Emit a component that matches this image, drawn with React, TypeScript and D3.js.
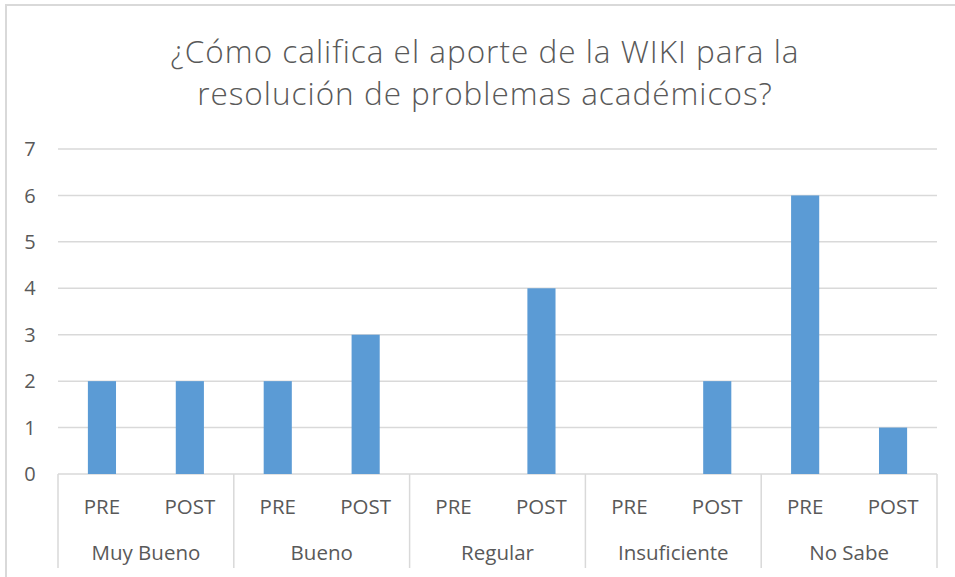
import { useEffect, useRef } from "react";
import * as d3 from "d3";

const groups = ["Muy Bueno", "Bueno", "Regular", "Insuficiente", "No Sabe"];
const phases = ["PRE", "POST"];
const preValues = [2, 2, 0, 0, 6];
const postValues = [2, 3, 4, 2, 1];
const yTicks = [0, 1, 2, 3, 4, 5, 6, 7];
const titleLines = [
  "¿Cómo califica el aporte de la WIKI para la",
  "resolución de problemas académicos?",
];

const App = () => {
  const ref = useRef<SVGSVGElement | null>(null);

  useEffect(() => {
    const width = 955,
      height = 577;
    const margin = { top: 149, right: 18, bottom: 103, left: 58 };
    const innerW = width - margin.left - margin.right;
    const innerH = height - margin.top - margin.bottom;
    const font = "'Open Sans', Lato, sans-serif";

    const svg = d3.select(ref.current);
    svg.selectAll("*").remove();

    svg.append("rect").attr("width", width).attr("height", height).attr("fill", "#fff");
    // chart frame
    svg
      .append("path")
      .attr("d", `M6,${height + 5}V5H${width + 5}`)
      .attr("fill", "none")
      .attr("stroke", "#d9d9d9")
      .attr("stroke-width", 2);

    svg
      .append("text")
      .attr("x", 485)
      .attr("y", 63)
      .attr("text-anchor", "middle")
      .attr("font-family", font)
      .attr("font-size", 31.5)
      .attr("font-weight", 300)
      .attr("letter-spacing", 1)
      .attr("fill", "#595959")
      .selectAll("tspan")
      .data(titleLines)
      .enter()
      .append("tspan")
      .attr("x", 485)
      .attr("dy", (d, i) => (i === 0 ? 0 : 42))
      .text(d => d);

    const rows = groups.flatMap((g, i) => [
      { group: g, phase: phases[0], value: preValues[i] },
      { group: g, phase: phases[1], value: postValues[i] },
    ]);

    const x0 = d3.scaleBand().domain(groups).range([0, innerW]);
    const x1 = d3.scaleBand().domain(phases).range([0, x0.bandwidth()]).paddingInner(0.68).paddingOuter(0.34);
    const y = d3.scaleLinear().domain([0, 7]).range([innerH, 0]);

    const g = svg.append("g").attr("transform", `translate(${margin.left},${margin.top})`);

    g.selectAll(".grid")
      .data(yTicks)
      .enter()
      .append("line")
      .attr("x1", 0)
      .attr("x2", innerW)
      .attr("y1", d => y(d))
      .attr("y2", d => y(d))
      .attr("stroke", "#d9d9d9")
      .attr("stroke-width", 1.5);

    g.selectAll(".ytick")
      .data(yTicks)
      .enter()
      .append("text")
      .attr("x", -28)
      .attr("y", d => y(d))
      .attr("dy", "0.36em")
      .attr("text-anchor", "middle")
      .attr("font-family", font)
      .attr("font-size", 20)
      .attr("fill", "#595959")
      .text(d => d);

    g.selectAll(".bar")
      .data(rows)
      .enter()
      .append("rect")
      .attr("x", d => (x0(d.group) as number) + (x1(d.phase) as number))
      .attr("y", d => y(d.value))
      .attr("width", x1.bandwidth())
      .attr("height", d => innerH - y(d.value))
      .attr("fill", "#5b9bd5");

    // category axis separators
    g.selectAll(".sep")
      .data([...groups.map(d => x0(d) as number), innerW])
      .enter()
      .append("line")
      .attr("x1", d => d)
      .attr("x2", d => d)
      .attr("y1", innerH)
      .attr("y2", innerH + 94)
      .attr("stroke", "#d9d9d9")
      .attr("stroke-width", 1.5);

    g.selectAll(".phaseLabel")
      .data(rows)
      .enter()
      .append("text")
      .attr("x", d => (x0(d.group) as number) + (x1(d.phase) as number) + x1.bandwidth() / 2)
      .attr("y", innerH + 40)
      .attr("text-anchor", "middle")
      .attr("font-family", font)
      .attr("font-size", 20.5)
      .attr("fill", "#595959")
      .text(d => d.phase);

    g.selectAll(".groupLabel")
      .data(groups)
      .enter()
      .append("text")
      .attr("x", d => (x0(d) as number) + x0.bandwidth() / 2)
      .attr("y", innerH + 86)
      .attr("text-anchor", "middle")
      .attr("font-family", font)
      .attr("font-size", 20.5)
      .attr("fill", "#595959")
      .text(d => d);
  }, []);

  return (
    <svg
      ref={ref}
      width={955}
      height={577}
      style={{ position: "absolute", left: 0, top: 0, display: "block" }}
    />
  );
};

export default App;
